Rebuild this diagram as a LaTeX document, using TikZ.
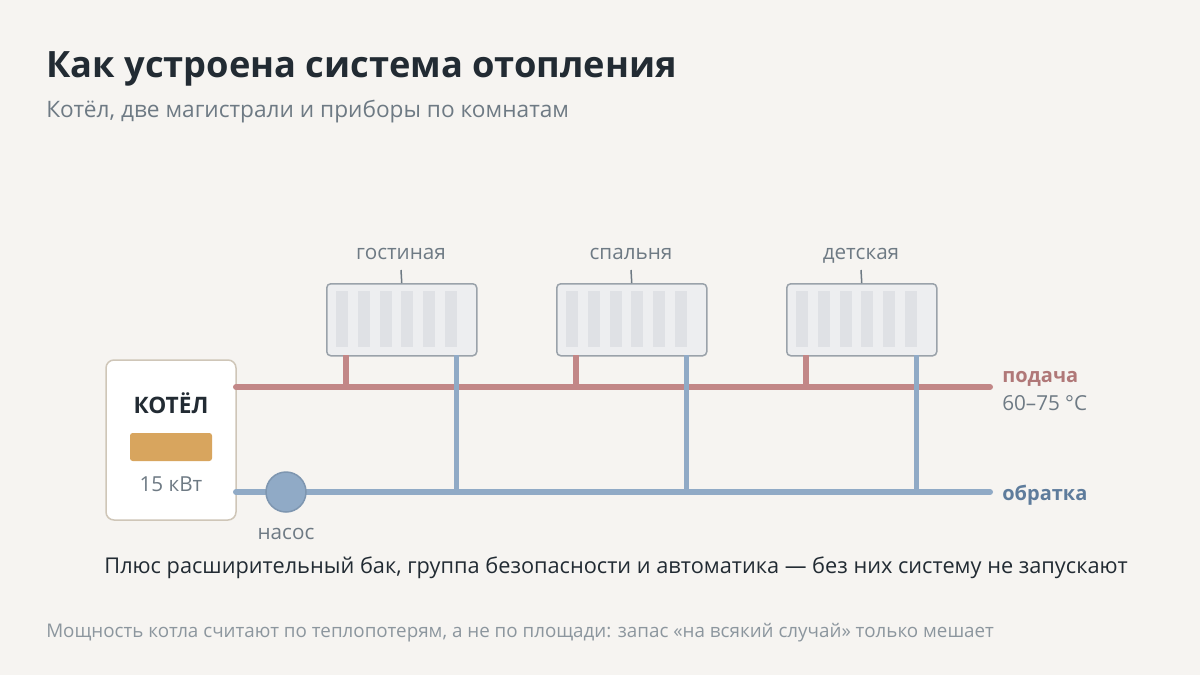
\documentclass[tikz,border=0pt]{standalone}
\usepackage{fontspec}
\setmainfont{Open Sans}
\begin{document}
\begin{tikzpicture}[x=0.75pt,y=-0.75pt,
  sup/.style={draw=supc,line width=6pt*0.75,line cap=round},
  ret/.style={draw=retc,line width=6pt*0.75,line cap=round},
  rad/.style={draw=radb,fill=radf,line width=1.5pt*0.75,rounded corners=3pt,minimum width=150*0.75pt,minimum height=72*0.75pt,inner sep=0pt},
  fin/.style={fill=finc,draw=none},
  room/.style={text=labc,font=\fontsize{15.5}{18}\selectfont,anchor=base}]
\definecolor{bg}{HTML}{F6F4F1}
\definecolor{supc}{HTML}{C28787}
\definecolor{retc}{HTML}{90AAC6}
\definecolor{radb}{HTML}{9AA2AA}
\definecolor{radf}{HTML}{EDEEF0}
\definecolor{finc}{HTML}{DFE1E5}
\definecolor{labc}{HTML}{6E7A84}
\definecolor{dark}{HTML}{222B33}
\definecolor{podc}{HTML}{B07878}
\definecolor{obrc}{HTML}{5E7C9C}
\definecolor{gold}{HTML}{D8A55E}
\definecolor{boxb}{HTML}{CFC6B8}
\definecolor{foot}{HTML}{8C969E}
\fill[bg] (0,0) rectangle (1200,675);
\useasboundingbox (0,0) rectangle (1200,675);
\node[anchor=base west,font=\fontsize{27.2}{30}\bfseries\selectfont,text=dark,inner sep=0] (title) at (46,77) {Как устроена система отопления};
\node[anchor=base west,font=\fontsize{17}{20}\selectfont,text=labc,inner sep=0] (sub) at (46,117) {Котёл, две магистрали и приборы по комнатам};
% boiler
\node[draw=boxb,fill=white,line width=1.5pt*0.75,rounded corners=6pt,minimum width=130*0.75pt,minimum height=160*0.75pt,inner sep=0] (boiler) at (171,440) {};
\node[font=\fontsize{17}{18}\bfseries\selectfont,text=dark,anchor=base] (kt) at (171,413) {КОТЁЛ};
\node[fill=gold,rounded corners=2pt,minimum width=82*0.75pt,minimum height=28*0.75pt,inner sep=0] (burner) at (171,447) {};
\node[font=\fontsize{15.5}{16}\selectfont,text=labc,anchor=base] (kw) at (171,491) {15 кВт};
% pipes
\coordinate (s0) at (236,387); \coordinate (s1) at (990,387);
\coordinate (r0) at (236,492); \coordinate (r1) at (990,492);
\foreach \n/\x in {a/326,b/556,c/786}{
  \node[rad,anchor=north west] (rad\n) at (\x,283) {};
  \foreach \i in {0,...,5} \fill[fin] (\x+10+\i*21.8,291) rectangle ++(12,56);
  \coordinate (ts\n) at (\x+20,355); \coordinate (tsb\n) at (\x+20,387);
  \coordinate (tr\n) at (\x+130,355); \coordinate (trb\n) at (\x+130,492);
  \draw[draw=labc,line width=1.5pt*0.75] (\x+75,270) -- (rad\n.north);
}
\draw[sup] (s0) -- (s1);
\foreach \n in {a,b,c}{
  \draw[draw=supc,line width=6pt*0.75] (ts\n) -- (tsb\n);
}
\draw[ret] (r0) -- (r1);
\foreach \n in {a,b,c}{
  \draw[draw=retc,line width=5pt*0.75] (tr\n) -- (trb\n);
}
\node[room] at (401,259) {гостиная};
\node[room] at (631,259) {спальня};
\node[room] at (861,259) {детская};
\node[circle,fill=retc,draw=obrc!80,line width=1.5pt*0.75,minimum size=40*0.75pt,inner sep=0] (pump) at (286,492) {};
\node[room,anchor=base] at (286,539) {насос};
\node[anchor=base west,font=\fontsize{15}{16}\bfseries\selectfont,text=podc,inner sep=0] (pod) at (1002,382) {подача};
\node[anchor=base west,font=\fontsize{15.5}{16}\selectfont,text=labc,inner sep=0] (temp) at (1002,410) {60–75 °C};
\node[anchor=base west,font=\fontsize{15}{16}\bfseries\selectfont,text=obrc,inner sep=0] (obr) at (1002,500) {обратка};
\node[anchor=base,font=\fontsize{16.3}{18}\selectfont,text=dark,inner sep=0] (note) at (616,573) {Плюс расширительный бак, группа безопасности и автоматика — без них систему не запускают};
\node[anchor=base west,font=\fontsize{14.1}{15}\selectfont,text=foot,inner sep=0] (ft) at (46,637) {Мощность котла считают по теплопотерям, а не по площади: запас «на всякий случай» только мешает};
\end{tikzpicture}
\end{document}
